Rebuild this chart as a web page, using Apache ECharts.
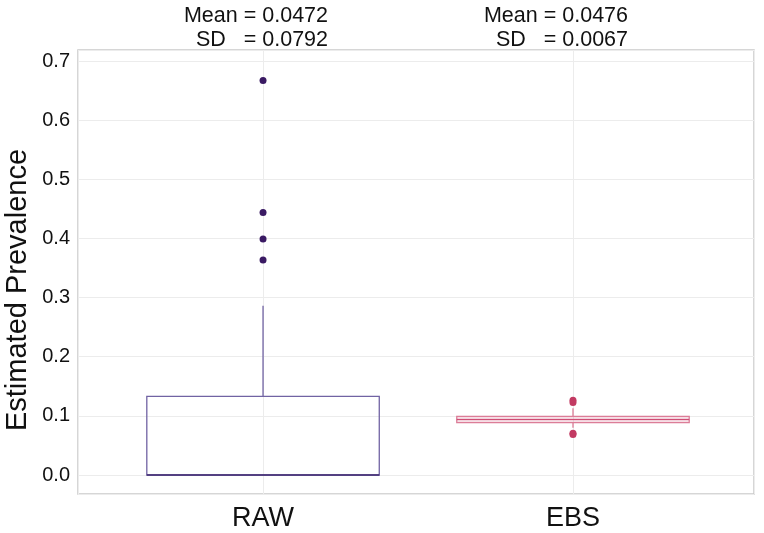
<!DOCTYPE html>
<html>
<head>
<meta charset="utf-8">
<script src="https://cdn.jsdelivr.net/npm/echarts@6/dist/echarts.min.js"></script>
<style>
  html, body { margin: 0; padding: 0; background: #fff; }
  #chart { width: 764px; height: 533px; }
</style>
</head>
<body>
<div id="chart"></div>
<script>
// ---- data ----
const categories = ['RAW', 'EBS'];
// [lower whisker, Q1, median, Q3, upper whisker]
const rawBox = [0.0, 0.0, 0.0, 0.133, 0.286];
const ebsBox = [0.080, 0.0888, 0.0938, 0.0989, 0.113];
const rawOutliers = [0.667, 0.444, 0.399, 0.3635];
const ebsOutliers = [0.1265, 0.1225, 0.0705, 0.0685];
const meanLabels = ['Mean = 0.0472', 'Mean = 0.0476'];
const sdLabels = ['SD   = 0.0792', 'SD   = 0.0067'];
const yTitle = 'Estimated Prevalence';

const lineColors = ['#7163a3', '#dc7d98'];
const medianColors = ['#3f2a70', '#cf4d75'];
const pointColors = ['#3a1a63', '#c23a62'];

const boxes = [rawBox, ebsBox];
const boxData = boxes.map((b, i) => [i].concat(b));

const chart = echarts.init(document.getElementById('chart'));
const font = 'Liberation Sans, Arial, Helvetica, sans-serif';

function renderBox(params, api) {
  const i = api.value(0);
  const lo = api.value(1), q1 = api.value(2), med = api.value(3), q3 = api.value(4), hi = api.value(5);
  const half = 0.375;
  const pL = api.coord([i - half, q3]);
  const pR = api.coord([i + half, q1]);
  const pMedL = api.coord([i - half, med]);
  const pMedR = api.coord([i + half, med]);
  const pTop = api.coord([i, hi]);
  const pQ3 = api.coord([i, q3]);
  const pQ1 = api.coord([i, q1]);
  const pBot = api.coord([i, lo]);
  const lc = lineColors[i], mc = medianColors[i];
  return {
    type: 'group',
    children: [
      { type: 'line', shape: { x1: pTop[0], y1: pTop[1], x2: pQ3[0], y2: pQ3[1] }, style: { stroke: lc, lineWidth: 1.3 } },
      { type: 'line', shape: { x1: pQ1[0], y1: pQ1[1], x2: pBot[0], y2: pBot[1] }, style: { stroke: lc, lineWidth: 1.3 } },
      { type: 'rect', shape: { x: pL[0], y: pL[1], width: pR[0] - pL[0], height: pR[1] - pL[1] },
        style: { fill: 'rgba(255,255,255,0)', stroke: lc, lineWidth: 1.3 } },
      { type: 'line', shape: { x1: pMedL[0], y1: pMedL[1], x2: pMedR[0], y2: pMedR[1] }, style: { stroke: mc, lineWidth: 1.6 } }
    ]
  };
}

const option = {
  backgroundColor: '#fff',
  animation: false,
  grid: {
    left: 78, right: 10, top: 50, bottom: 39,
    show: true, borderColor: '#c9c9c9', borderWidth: 1.5, backgroundColor: 'transparent'
  },
  xAxis: {
    type: 'value',
    min: -0.597, max: 1.584, splitNumber: 2,
    axisLine: { show: false },
    axisTick: { show: false },
    splitLine: { show: true, lineStyle: { color: '#ececec', width: 1 } },
    axisLabel: {
      showMinLabel: false, showMaxLabel: false,
      fontSize: 27, color: '#111', fontFamily: font, margin: 11,
      formatter: function (v) {
        const k = Math.round(v);
        if (Math.abs(v - k) < 1e-6 && categories[k] !== undefined) return categories[k];
        return '';
      }
    }
  },
  yAxis: {
    type: 'value',
    min: -0.0321, max: 0.7186, splitNumber: 7,
    axisLine: { show: false },
    axisTick: { show: false },
    splitLine: { show: true, lineStyle: { color: '#ececec', width: 1 } },
    axisLabel: {
      showMinLabel: false, showMaxLabel: false,
      fontSize: 20, color: '#111', fontFamily: font, margin: 8,
      formatter: function (v) { return v.toFixed(1); }
    }
  },
  graphic: [
    { type: 'text', x: 18, y: 290, rotation: Math.PI / 2,
      style: { text: yTitle, fontSize: 29, fontFamily: font, fill: '#111', align: 'center', verticalAlign: 'middle' } },
    { type: 'text', x: 328, y: 16, style: { text: meanLabels[0], fontSize: 21.5, fontFamily: font, fill: '#111', align: 'right', verticalAlign: 'middle' } },
    { type: 'text', x: 328, y: 40, style: { text: sdLabels[0], fontSize: 21.5, fontFamily: font, fill: '#111', align: 'right', verticalAlign: 'middle' } },
    { type: 'text', x: 628, y: 16, style: { text: meanLabels[1], fontSize: 21.5, fontFamily: font, fill: '#111', align: 'right', verticalAlign: 'middle' } },
    { type: 'text', x: 628, y: 40, style: { text: sdLabels[1], fontSize: 21.5, fontFamily: font, fill: '#111', align: 'right', verticalAlign: 'middle' } }
  ],
  series: [
    {
      type: 'custom',
      renderItem: renderBox,
      data: boxData,
      encode: { x: 0, y: [1, 2, 3, 4, 5] },
      clip: true, z: 2
    },
    {
      type: 'scatter',
      data: rawOutliers.map(v => [0, v]),
      symbolSize: 7,
      itemStyle: { color: pointColors[0], opacity: 1 },
      z: 3
    },
    {
      type: 'scatter',
      data: ebsOutliers.map(v => [1, v]),
      symbolSize: 7,
      itemStyle: { color: pointColors[1], opacity: 1 },
      z: 3
    }
  ]
};
chart.setOption(option);
</script>
</body>
</html>
